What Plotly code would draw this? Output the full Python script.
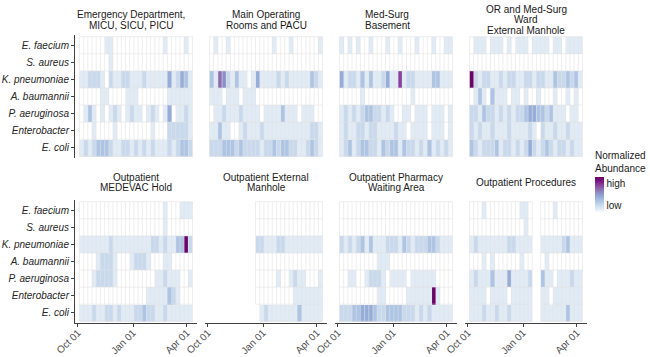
import numpy as np
import pandas as pd
import plotly.graph_objects as go

# ---------------- data ----------------
species = ["E. faecium", "S. aureus", "K. pneumoniae", "A. baumannii",
           "P. aeruginosa", "Enterobacter", "E. coli"]

weeks = ["2021-10-07", "2021-10-14", "2021-10-21", "2021-10-28",
         "2021-11-04", "2021-11-11", "2021-11-18", "2021-11-25",
         "2021-12-02", "2021-12-09", "2021-12-16", "2021-12-23", "2021-12-30",
         "2022-01-06", "2022-01-13", "2022-01-20", "2022-01-27",
         "2022-02-03", "2022-02-10", "2022-02-17", "2022-02-24",
         "2022-03-03", "2022-03-10", "2022-03-17", "2022-03-24", "2022-03-31",
         "2022-04-07"]

tick_dates = ["2021-10-01", "2022-01-01", "2022-04-01"]
tick_labels = ["Oct 01", "Jan 01", "Apr 01"]

# abundance levels 0-9 per weekly tile ('.' = no sample)
ED_ICU = [
    "000000110000000000001000010",
    "000000010000000000000000000",
    "112221021122111211111412431",
    "000001100001110000000111111",
    "013101012101211012101401121",
    "000100001000000001000222221",
    "121233321122121212111212332",
]
MAIN_OR = [
    "010010000000000100010000001",
    "000000000000000000000000000",
    "316521311014111121211111321",
    "111011101110000000000000000",
    "011211121111011113111011100",
    "113110012111211111111111221",
    "222333232222122323322112321",
]
MED_SURG = [
    "101010010001001000100010011",
    "000000000000000000000000000",
    "412213131124117122111133111",
    "000001000000000001000000000",
    "121212332212100110111011101",
    "121122122111121101111011101",
    "123123322132331322121312121",
]
OR_WARD = [
    "011101110101110111101101111",
    "000000000000000000000000000",
    "921221121221122122113223231",
    "013103111011010010001001010",
    "221322121212234433231110110",
    "212112111211112102112112111",
    "321222312212124212321221211",
]
MEDEVAC = [
    "000000000000000000001000111",
    "000000000000000000001000000",
    "111111121111111112212113392",
    "000012221000122210001100000",
    "000122221000000000112111001",
    "000000000000000011111321000",
    "111211221211122322112111111",
]
EXT_MANHOLE = [
    "...........0000000000000000",
    "...........0000000000000000",
    "...........2211122111111111",
    "...........0000000000000000",
    "...........0000010012110001",
    "...........0000000001111111",
    "............121111111311111",
]
PHARMACY = [
    "000000000000000000000000000",
    "000000000000000000000000000",
    "212123131112221321222332111",
    "000000000111000000000000000",
    "001100122210111101111110000",
    "000000000110000011111191000",
    "222334443223333222121211111",
]
PROCEDURES = [
    "000100000000110..0001000000",
    "000000000000010..0000000000",
    "121111111221111..1111123111",
    "000101000000100..0100000000",
    "121113111411112..3110111211",
    "111101111011111..1101111111",
    "111211211211111..1111113111",
]

panel_titles = [
    ["Emergency Department,", "MICU, SICU, PICU"],
    ["Main Operating", "Rooms and PACU"],
    ["Med-Surg", "Basement"],
    ["OR and Med-Surg", "Ward", "External Manhole"],
    ["Outpatient", "MEDEVAC Hold"],
    ["Outpatient External", "Manhole"],
    ["Outpatient Pharmacy", "Waiting Area"],
    ["Outpatient Procedures"],
]
panel_data = [ED_ICU, MAIN_OR, MED_SURG, OR_WARD,
              MEDEVAC, EXT_MANHOLE, PHARMACY, PROCEDURES]

# ---------------- layout geometry (pixels) ----------------
W, H = 650, 357
FONT = "Liberation Sans, Arial, Helvetica, sans-serif"
col_left = [75, 205, 335, 465]
panel_w = 122
row_top = [35, 200]
panel_h = 123
title_cx = [[131, 266, 387, 526], [136, 266, 396, 526]]
title_cy = [19.8, 182.6]
line_gap = 10.6
GRID = "#e3e3e3"

colorscale = [[0.0, "#ffffff"], [0.111, "#e0ebf6"], [0.222, "#c8d9ee"],
              [0.333, "#adc4e4"], [0.444, "#96add9"], [0.556, "#8c8fc5"],
              [0.667, "#8c6bb1"], [0.778, "#88419d"], [0.889, "#7a1380"],
              [1.0, "#6a0469"]]

centers = pd.to_datetime(pd.Series(weeks))
half = pd.Timedelta(hours=84)
left_edges = (centers - half).dt.strftime("%Y-%m-%d %H:%M:%S").tolist()
right_edges = (centers + half).dt.strftime("%Y-%m-%d %H:%M:%S").tolist()
yidx = list(range(len(species)))

fig = go.Figure()
layout = {}
annotations = []

for i, rows in enumerate(panel_data):
    r, c = divmod(i, 4)
    n = i + 1
    xa = "x" if n == 1 else f"x{n}"
    ya = "y" if n == 1 else f"y{n}"
    z = np.array([[np.nan if ch == "." else int(ch) / 9.0 for ch in s] for s in rows])
    fig.add_trace(go.Heatmap(
        x=weeks, y=yidx, z=z, coloraxis="coloraxis",
        xaxis=xa, yaxis=ya, hoverinfo="skip"))

    # tile outlines
    gx, gy = [], []
    nr, nc = z.shape
    for ri in range(nr):
        for ci in range(nc):
            if np.isnan(z[ri, ci]):
                continue
            t, b = ri - 0.5, ri + 0.5
            L, R = left_edges[ci], right_edges[ci]
            gx += [L, L, None]; gy += [t, b, None]
            gx += [L, R, None]; gy += [t, t, None]
            if ci == nc - 1 or np.isnan(z[ri, ci + 1]):
                gx += [R, R, None]; gy += [t, b, None]
            if ri == nr - 1 or np.isnan(z[ri + 1, ci]):
                gx += [L, R, None]; gy += [b, b, None]
    fig.add_trace(go.Scatter(
        x=gx, y=gy, mode="lines", line=dict(color=GRID, width=0.6),
        hoverinfo="skip", showlegend=False, xaxis=xa, yaxis=ya))

    x0 = col_left[c] / W
    x1 = (col_left[c] + panel_w) / W
    y1 = 1 - row_top[r] / H
    y0 = 1 - (row_top[r] + panel_h) / H

    xaxis = dict(domain=[x0, x1], anchor=ya, type="date", automargin=False,
                 range=["2021-09-26", "2022-04-18"],
                 showgrid=False, zeroline=False)
    if r == 1:
        xaxis.update(showline=True, linecolor="#404040", linewidth=1,
                     ticks="outside", ticklen=3, tickwidth=1, tickcolor="#404040",
                     tickmode="array", tickvals=tick_dates, ticktext=tick_labels,
                     tickangle=-45, ticklabelstandoff=-4,
                     tickfont=dict(size=10, color="#4d4d4d", family=FONT))
    else:
        xaxis.update(showline=False, showticklabels=False, ticks="")
    yaxis = dict(domain=[y0, y1], anchor=xa, automargin=False,
                 range=[6.6, -0.6], showgrid=False, zeroline=False)
    if c == 0:
        yaxis.update(showline=True, linecolor="#404040", linewidth=1,
                     ticks="outside", ticklen=3, tickwidth=1, tickcolor="#404040",
                     tickmode="array", tickvals=yidx,
                     ticktext=[f"<i>{s}</i>" for s in species],
                     tickfont=dict(size=10, color="#262626", family=FONT))
    else:
        yaxis.update(showline=False, showticklabels=False, ticks="")
    layout["xaxis" if n == 1 else f"xaxis{n}"] = xaxis
    layout["yaxis" if n == 1 else f"yaxis{n}"] = yaxis

    lines = panel_titles[i]
    k = len(lines)
    for j, txt in enumerate(lines):
        ypx = title_cy[r] + (j - (k - 1) / 2) * line_gap
        annotations.append(dict(
            text=txt, xref="paper", yref="paper",
            x=title_cx[r][c] / W, y=1 - ypx / H,
            xanchor="center", yanchor="middle", showarrow=False,
            font=dict(size=10, color="#1a1a1a", family=FONT)))

fig.update_layout(
    template="none",
    width=W, height=H,
    margin=dict(l=0, r=0, t=0, b=0, autoexpand=False),
    paper_bgcolor="white", plot_bgcolor="rgba(0,0,0,0)",
    font=dict(family=FONT, size=10, color="#1a1a1a"),
    showlegend=False,
    annotations=annotations,
    coloraxis=dict(
        colorscale=colorscale, cmin=0, cmax=1,
        colorbar=dict(
            x=595 / W, xanchor="left", y=1 - 148 / H, yanchor="top",
            len=65, lenmode="pixels", thickness=9, thicknessmode="pixels",
            outlinewidth=0, xpad=0, ypad=0,
            tickmode="array", tickvals=[0.22, 0.83], ticktext=["low", "high"],
            ticks="", ticklen=0,
            tickfont=dict(size=10, color="#1a1a1a", family=FONT),
            title=dict(text="Normalized<br>Abundance", side="top",
                       font=dict(size=10, color="#1a1a1a", family=FONT)),
        ),
    ),
    **layout,
)

fig.write_html("out.html")
